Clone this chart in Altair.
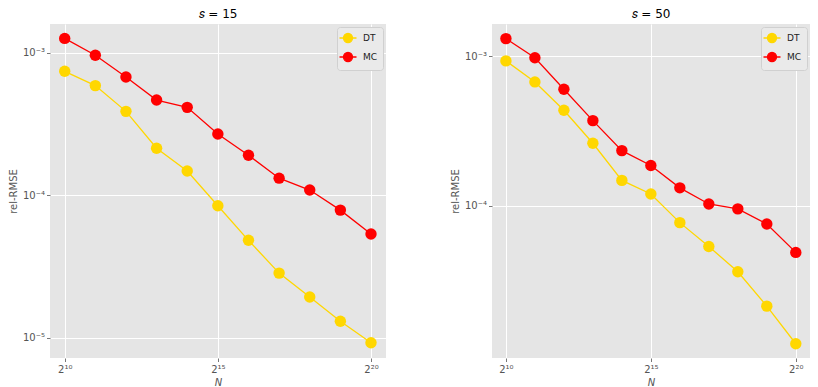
import altair as alt
import pandas as pd

exps = list(range(10, 21))
N = [2 ** k for k in exps]

# s = 15
dt15 = [7.41e-4, 5.88e-4, 3.88e-4, 2.14e-4, 1.48e-4, 8.45e-5, 4.84e-5, 2.85e-5, 1.94e-5, 1.31e-5, 9.27e-6]
mc15 = [1.26e-3, 9.6e-4, 6.76e-4, 4.66e-4, 4.14e-4, 2.69e-4, 1.91e-4, 1.32e-4, 1.09e-4, 7.88e-5, 5.36e-5]
# s = 50
dt50 = [9.30e-4, 6.73e-4, 4.35e-4, 2.62e-4, 1.48e-4, 1.20e-4, 7.73e-5, 5.36e-5, 3.63e-5, 2.14e-5, 1.20e-5]
mc50 = [1.31e-3, 9.75e-4, 6.01e-4, 3.71e-4, 2.34e-4, 1.86e-4, 1.32e-4, 1.03e-4, 9.55e-5, 7.57e-5, 4.89e-5]

methods = ["DT", "MC"]
colors = ["#FFD700", "#FF0000"]
x_ticks = [2 ** 10, 2 ** 15, 2 ** 20]
y_ticks_15 = [1e-5, 1e-4, 1e-3]
y_ticks_50 = [1e-4, 1e-3]

legend_path = "M-1.7,0H1.7 M-0.9,0 a0.9,0.9 0 1,0 1.8,0 a0.9,0.9 0 1,0 -1.8,0 Z"


def make_df(dt, mc):
    rows = []
    for n, v in zip(N, dt):
        rows.append({"N": n, "err": v, "method": "DT"})
    for n, v in zip(N, mc):
        rows.append({"N": n, "err": v, "method": "MC"})
    return pd.DataFrame(rows)


def panel(df, title, ydomain, yticks, width):
    x = alt.X(
        "N:Q",
        scale=alt.Scale(type="log", base=2, domain=[2 ** 9.52, 2 ** 20.49], nice=False),
        axis=alt.Axis(
            values=x_ticks,
            labelExpr="datum.value < 2000 ? '2¹⁰' : datum.value < 100000 ? '2¹⁵' : '2²⁰'",
            title="N",
            titleFontStyle="italic",
        ),
    )
    y = alt.Y(
        "err:Q",
        scale=alt.Scale(type="log", domain=ydomain, nice=False),
        axis=alt.Axis(
            values=yticks,
            labelExpr="datum.value >= 0.00099 ? '10⁻³' : datum.value >= 0.000099 ? '10⁻⁴' : '10⁻⁵'",
            title="rel-RMSE",
        ),
    )
    color = alt.Color(
        "method:N",
        scale=alt.Scale(domain=methods, range=colors),
        legend=alt.Legend(title=None, symbolType=legend_path),
    )
    base = alt.Chart(df).encode(x=x, y=y, color=color)
    line = base.mark_line(strokeWidth=1.3)
    pts = base.mark_point(filled=True, size=130, opacity=1)
    return (line + pts).properties(
        width=width,
        height=334,
        title=alt.TitleParams(title, fontSize=12, font="DejaVu Sans", fontWeight="normal", color="black", offset=3),
    )


left = panel(make_df(dt15, mc15), "𝑠 = 15", [7.24e-6, 1.59e-3], y_ticks_15, 336)
right = panel(make_df(dt50, mc50), "𝑠 = 50", [9.64e-6, 1.64e-3], y_ticks_50, 318)

chart = (
    alt.hconcat(left, right, spacing=64)
    .properties(padding=0)
    .resolve_scale(color="independent")
    .resolve_legend(color="independent")
    .configure_view(fill="#E5E5E5", stroke=None)
    .configure_axis(
        domain=False,
        grid=True,
        gridColor="white",
        gridWidth=1,
        tickColor="#777777",
        tickSize=3.5,
        labelColor="#555555",
        labelFont="DejaVu Sans",
        labelFontSize=10,
        titleColor="#555555",
        titleFont="DejaVu Sans",
        titleFontSize=10,
        titleFontWeight="normal",
    )
    .configure_axisX(labelPadding=3, titlePadding=3)
    .configure_axisY(titlePadding=4)
    .configure_legend(
        orient="top-right",
        offset=3,
        padding=5,
        fillColor="#EAEAEA",
        strokeColor="#D0D0D0",
        cornerRadius=3,
        labelFont="DejaVu Sans",
        labelFontSize=9,
        labelColor="#222222",
        labelOffset=9,
        symbolSize=100,
        symbolStrokeWidth=1.3,
        rowPadding=3,
    )
)

chart.save("out.html", embed_options={"renderer": "svg", "actions": False})
